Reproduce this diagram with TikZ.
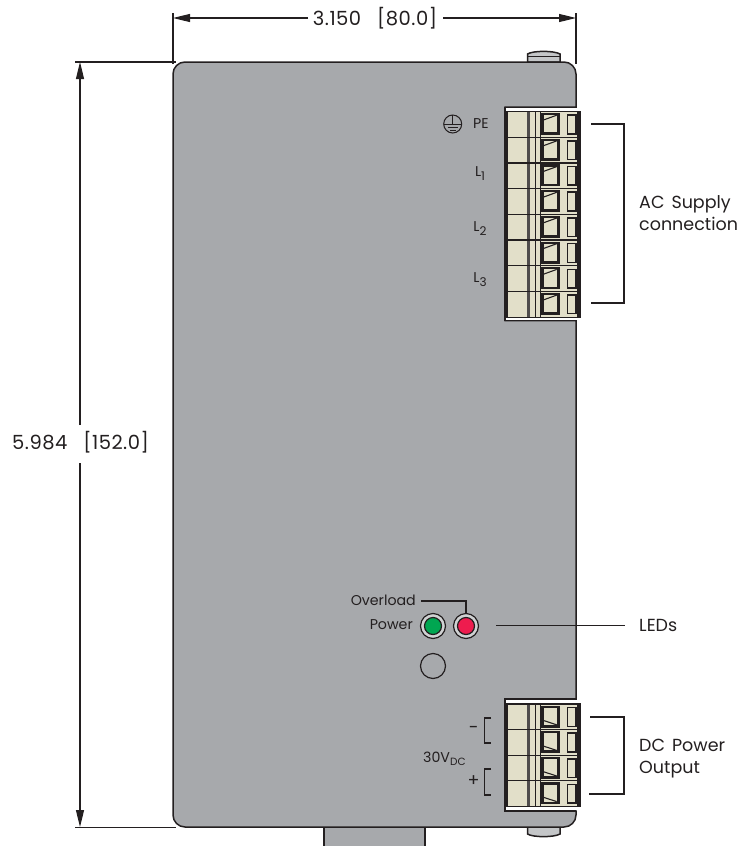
\documentclass[tikz,border=0pt]{standalone}
\usepackage{fontspec}
\setmainfont{Poppins}
\newfontfamily\dimfont[LetterSpace=2.5]{Poppins}
\definecolor{bodygrey}{HTML}{A7A9AC}
\definecolor{knobgrey}{HTML}{C4C6C8}
\definecolor{ringgrey}{HTML}{D0D2D3}
\definecolor{cream}{HTML}{E2DFC9}
\definecolor{ink}{HTML}{231F20}
\definecolor{ledgreen}{HTML}{00A651}
\definecolor{ledred}{HTML}{EE1C4E}
\usetikzlibrary{arrows.meta}
\tikzset{
  outline/.style={draw=ink,line width=1.5pt},
  thin line/.style={draw=ink,line width=1.2pt},
  dim/.style={draw=ink,line width=1.2pt},
  dimarrow/.style={dim,-{Triangle[length=17pt,width=8pt]}},
  dimtext/.style={inner sep=0pt,text=ink,font=\dimfont\fontsize{19.5}{22}\selectfont},
  label/.style={inner sep=0pt,text=ink,font=\fontsize{17.5}{22}\selectfont},
  small/.style={inner sep=0pt,text=ink,font=\fontsize{14.2}{17}\selectfont},
  led/.style={circle,draw=ink,line width=1.2pt,inner sep=0pt,minimum size=17pt},
  ring/.style={circle,draw=ink,fill=ringgrey,line width=1.2pt,inner sep=0pt,minimum size=25pt},
}
\newcommand{\sbx}[1]{\raisebox{-4pt}{\fontsize{12}{13}\selectfont #1}}
\newcommand{\sbd}[1]{\raisebox{-3pt}{\fontsize{10.5}{12}\selectfont #1}}
% #1 top y, #2 y of diagonal at left, #3 y of diagonal at right
\newcommand{\terminal}[3]{%
  \begin{scope}[shift={(0,#1)}]
    \fill[cream] (507,0) rectangle (578,25.7);
    \fill[ink!80] (526.5,0) rectangle (529.8,25.7);
    \draw[ink,line width=1pt] (535.5,0) -- (535.5,25.7);
    \draw[ink,line width=1pt] (540.5,0) -- (540.5,25.7);
    \fill[ink] (541,1.5) rectangle (559.5,23.5);
    \fill[cream] (543.5,3.7) rectangle (556.7,20.8);
    \draw[ink,line width=1.1pt] (543.5,#2) -- (556.7,#3);
    \fill[ink] (566.8,2.8) rectangle (576.5,23);
    \fill[cream] (568.3,4.3) rectangle (575,21.5);
    \fill[ink] (576.5,0) rectangle (580,25.7);
    \draw[ink,line width=1.2pt] (507,0) -- (580,0);
  \end{scope}
}
\begin{document}
\begin{tikzpicture}[x=1pt,y=-1pt]
\useasboundingbox (0,0) rectangle (744,846);
% stem and knobs
\path[fill=bodygrey,outline] (324,846) -- (324,827) -- (425,827) -- (425,846);
\path[fill=knobgrey,outline] (527.5,62) -- (527.5,54) .. controls (533,50.5) and (554,50.5) .. (560,54) -- (560,62) -- cycle;
\draw[ink,line width=1pt] (527.5,56) -- (560,56);
\path[fill=knobgrey,outline] (527.5,827) -- (527.5,834) .. controls (533,837.5) and (554,837.5) .. (560,834) -- (560,827) -- cycle;
% body
\path[fill=bodygrey,outline] (185,62) -- (564,62) arc[start angle=-90,end angle=0,radius=12] -- (576,107) -- (505,107)
  -- (505,320.5) -- (576,320.5) -- (576,699) -- (505,699) -- (505,811) -- (576,811) -- (576,815)
  arc[start angle=0,end angle=90,radius=12] -- (185,827) arc[start angle=90,end angle=180,radius=12] -- (173,74)
  arc[start angle=180,end angle=270,radius=12] -- cycle;
\fill[white] (505.8,107.8) rectangle (582,319.7);
\fill[white] (505.8,699.8) rectangle (582,810.2);
\draw[ink,line width=1.5pt] (505,107) -- (505,320.5) -- (576,320.5);
\draw[ink,line width=1.5pt] (576,699) -- (505,699) -- (505,811) -- (576,811);
% terminals
\foreach \rowno in {0,...,7}{\terminal{111.5+25.7*\rowno}{8.5}{3.7}}
\draw[ink,line width=1.2pt] (507,111.5) rectangle (580,317.5);
\foreach \rowno in {0,...,3}{\terminal{704+25.6*\rowno}{16.5}{20.8}}
\draw[ink,line width=1.2pt] (507,704) rectangle (580,806.6);
% dimensions
\coordinate (tl) at (173,18); \coordinate (tr) at (576,18);
\coordinate (lt) at (80,62); \coordinate (lb) at (80,827);
\node[dimtext,anchor=center] (wlab) at (375,18) {3.150\hspace{16pt}[80.0]};
\node[dimtext,anchor=center] (hlab) at (80.5,442.5) {5.984\hspace{16pt}[152.0]};
\coordinate (wa) at (308,18); \coordinate (wb) at (443,18);
\coordinate (ha) at (80,425); \coordinate (hb) at (80,463);
\draw[dimarrow] (wa) -- (tl);
\draw[dimarrow] (wb) -- (tr);
\draw[dimarrow] (ha) -- (lt);
\draw[dimarrow] (hb) -- (lb);
\draw[dim] (173,13) -- (173,64);
\draw[dim] (576,13) -- (576,64);
\draw[dim] (75,62) -- (176,62);
\draw[dim] (75,827.5) -- (176,827.5);
% right brackets
\coordinate (ac1) at (591,124); \coordinate (ac2) at (591,303);
\coordinate (dc1) at (590,717); \coordinate (dc2) at (589,794);
\draw[dim] (ac1) -- (624,124) -- (624,303) -- (ac2);
\draw[dim] (dc1) -- (624,717) -- (624,794) -- (dc2);
\node[label,anchor=west,align=left] (aclab) at (639,213) {AC\hspace{7pt}Supply\\connection};
\node[label,anchor=west,align=left] (dclab) at (639,758.5) {DC\hspace{7pt}Power\\Output};
\node[label,anchor=west] (ledlab) at (639,625.5) {LEDs};
% LEDs
\node[ring] (g) at (433,626) {};
\node[led,fill=ledgreen] (gi) at (433,626) {};
\node[ring] (r) at (466,626) {};
\node[led,fill=ledred] (ri) at (466,626) {};
\node[circle,draw=ink,line width=1.2pt,inner sep=0pt,minimum size=25pt] (blank) at (433,666) {};
\node[small,anchor=east] (over) at (416,600.5) {Overload};
\node[small,anchor=east] (power) at (413,625) {Power};
\draw[thin line] (421,601) -- (466,601) -- (r.north);
\coordinate (ledend) at (625,625.5);
\coordinate (ledstart) at (496,625.5);
\draw[thin line] (ledstart) -- (ledend);
% terminal labels
\node[circle,draw=ink,line width=1pt,inner sep=0pt,minimum size=18pt] (pe) at (452.7,124) {};
\draw[ink,line width=1pt] (452.7,115) -- (452.7,124) (444,124) -- (461.5,124) (447.5,127) -- (458,127) (450,130) -- (455.5,130);
\node[small,anchor=west] (pelab) at (473,124) {PE};
\node[small,anchor=center] (l1) at (480,174) {L\sbx{1}};
\node[small,anchor=center] (l2) at (480,229) {L\sbx{2}};
\node[small,anchor=center] (l3) at (480,280) {L\sbx{3}};
\node[small,anchor=base west] (vdc) at (423,762) {30V\sbd{DC}};
\node[label,anchor=center] (minus) at (473.5,730) {−};
\node[label,anchor=center] (plus) at (473.5,781) {+};
\draw[dim] (491,718) -- (484.5,718) -- (484.5,743) -- (491,743);
\draw[dim] (491,769) -- (484.5,769) -- (484.5,795) -- (491,795);
\end{tikzpicture}
\end{document}
